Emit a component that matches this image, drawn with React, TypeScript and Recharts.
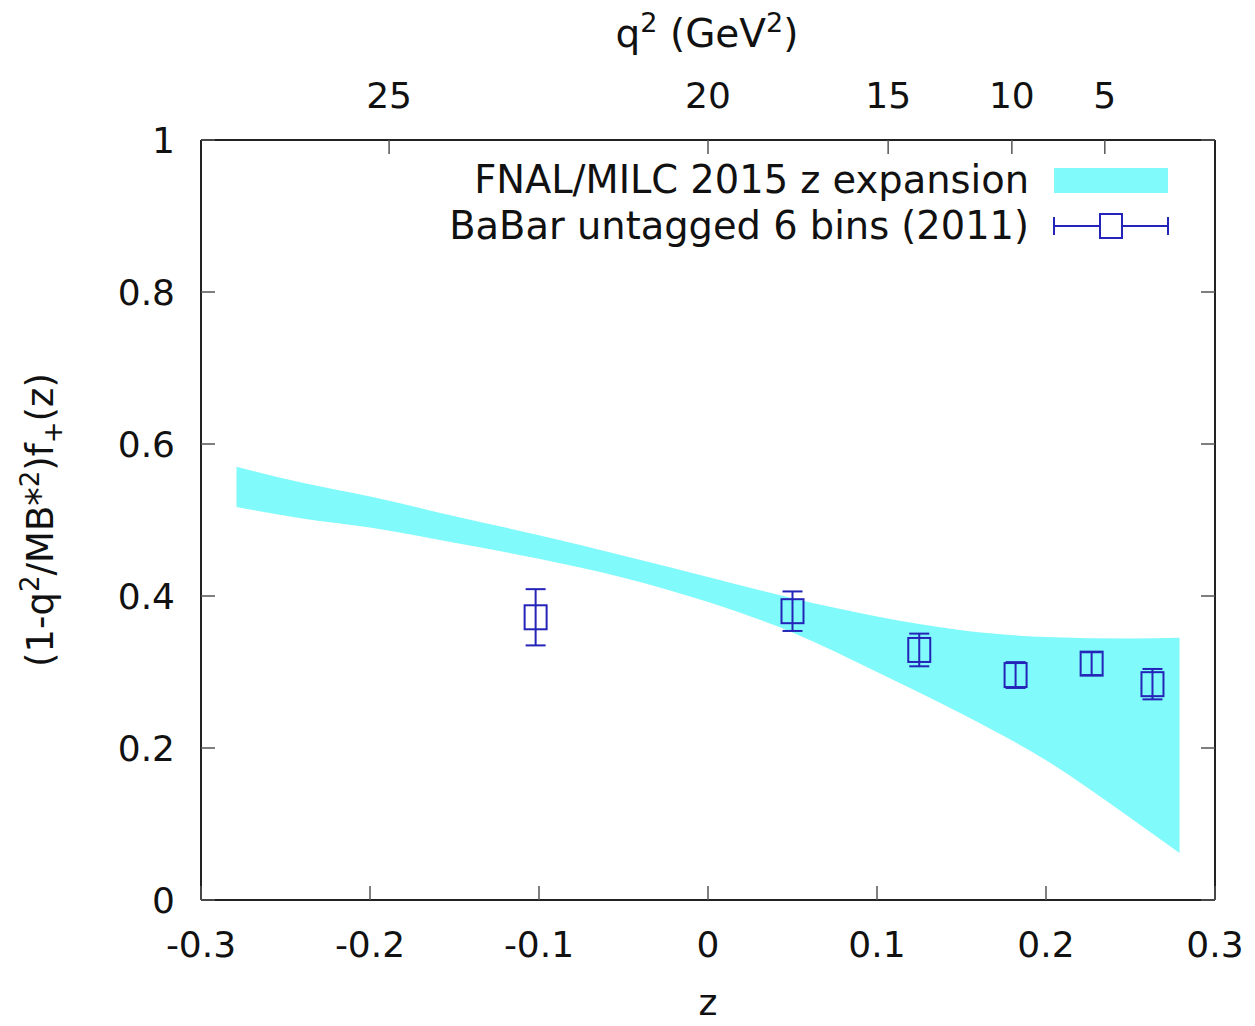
import React from 'react';
import { ComposedChart, Area, Scatter, ErrorBar, XAxis, YAxis } from 'recharts';

// ---- data ----
const bandZ = [-0.279, -0.24, -0.2, -0.15, -0.1, -0.05, 0, 0.05, 0.1, 0.15, 0.2, 0.25, 0.279];
const bandLower = [0.517, 0.502, 0.49, 0.47, 0.449, 0.424, 0.392, 0.352, 0.3, 0.245, 0.184, 0.108, 0.062];
const bandUpper = [0.57, 0.549, 0.531, 0.505, 0.48, 0.453, 0.425, 0.397, 0.373, 0.355, 0.346, 0.344, 0.345];

const babarZ = [-0.102, 0.05, 0.125, 0.182, 0.227, 0.263];
const babarF = [0.372, 0.38, 0.329, 0.296, 0.311, 0.284];
const babarErr = [0.037, 0.026, 0.0215, 0.017, 0.015, 0.02];

const zTicks = [-0.3, -0.2, -0.1, 0, 0.1, 0.2, 0.3];
const yTicks = [0, 0.2, 0.4, 0.6, 0.8, 1];
const q2Labels = ['25', '20', '15', '10', '5'];
const q2TickZ = [-0.1887, 0.0, 0.1066, 0.1798, 0.2348];

const bandData = bandZ.map((z, i) => ({ z, range: [bandLower[i], bandUpper[i]] }));
const babarData = babarZ.map((z, i) => ({ z, f: babarF[i], err: babarErr[i] }));

const W = 1240;
const H = 1010;
const FONT = '"DejaVu Sans", sans-serif';
const FS = 36;
const BLUE = '#2424b8';
const CYAN = '#80fafa';
const TICKC = '#555';

const fmt = (v: number) => (v === 0 ? '0' : String(Number(v.toFixed(2))));

const BottomTick = (props: any) => {
  const { x, y, payload } = props;
  return (
    <g>
      <line x1={x} x2={x} y1={y} y2={y - 14} stroke={TICKC} strokeWidth={1.5} />
      <text x={x} y={y + 57} textAnchor="middle" fontFamily={FONT} fontSize={FS} fill="#111">
        {fmt(payload.value)}
      </text>
    </g>
  );
};

const TopTick = (props: any) => {
  const { x, y, payload } = props;
  let idx = q2TickZ.findIndex((t) => Math.abs(t - payload.value) < 1e-6);
  if (idx < 0) idx = props.index ?? 0;
  return (
    <g>
      <line x1={x} x2={x} y1={y} y2={y + 14} stroke={TICKC} strokeWidth={1.5} />
      <text x={x} y={y - 32} textAnchor="middle" fontFamily={FONT} fontSize={FS} fill="#111">
        {q2Labels[idx]}
      </text>
    </g>
  );
};

const LeftTick = (props: any) => {
  const { x, y, payload } = props;
  return (
    <g>
      <line x1={x} x2={x + 14} y1={y} y2={y} stroke={TICKC} strokeWidth={1.5} />
      <text x={x - 26} y={y + 13} textAnchor="end" fontFamily={FONT} fontSize={FS} fill="#111">
        {fmt(payload.value)}
      </text>
    </g>
  );
};

const RightTick = (props: any) => {
  const { x, y } = props;
  return <line x1={x} x2={x - 14} y1={y} y2={y} stroke={TICKC} strokeWidth={1.5} />;
};

const SquareShape = (props: any) => {
  const { cx, cy } = props;
  if (cx == null || cy == null) return null;
  return <rect x={cx - 11} y={cy - 12} width={22} height={24} fill="none" stroke={BLUE} strokeWidth={2} />;
};

export default function App() {
  return (
    <div style={{ position: 'relative', width: W, height: H }}>
      <ComposedChart
        width={W}
        height={H}
        data={bandData}
        margin={{ top: 52, right: 13, bottom: 38, left: 93 }}
      >
        <XAxis
          xAxisId="bottom"
          dataKey="z"
          type="number"
          domain={[-0.3, 0.3]}
          ticks={zTicks}
          orientation="bottom"
          height={80}
          tickSize={0}
          tickMargin={0}
          tick={<BottomTick />}
          axisLine={{ stroke: '#222', strokeWidth: 2 }}
          allowDataOverflow
          interval={0}
        />
        <XAxis
          xAxisId="top"
          dataKey="z"
          type="number"
          domain={[-0.3, 0.3]}
          ticks={q2TickZ}
          orientation="top"
          height={80}
          tickSize={0}
          tickMargin={0}
          tick={<TopTick />}
          axisLine={{ stroke: '#222', strokeWidth: 2 }}
          allowDataOverflow
          interval={0}
        />
        <YAxis
          yAxisId="left"
          type="number"
          domain={[0, 1]}
          ticks={yTicks}
          orientation="left"
          width={100}
          tickSize={0}
          tickMargin={0}
          tick={<LeftTick />}
          axisLine={{ stroke: '#222', strokeWidth: 2 }}
          allowDataOverflow
          interval={0}
        />
        <YAxis
          yAxisId="right"
          type="number"
          domain={[0, 1]}
          ticks={yTicks}
          orientation="right"
          width={20}
          tickSize={0}
          tickMargin={0}
          tick={<RightTick />}
          axisLine={{ stroke: '#222', strokeWidth: 2 }}
          allowDataOverflow
          interval={0}
        />
        <Area
          xAxisId="bottom"
          yAxisId="left"
          dataKey="range"
          type="monotone"
          stroke="none"
          fill={CYAN}
          fillOpacity={1}
          isAnimationActive={false}
        />
        <Scatter
          xAxisId="bottom"
          yAxisId="left"
          data={babarData}
          dataKey="f"
          shape={<SquareShape />}
          isAnimationActive={false}
        >
          <ErrorBar dataKey="err" direction="y" width={10} stroke={BLUE} strokeWidth={2} isAnimationActive={false} />
        </Scatter>
      </ComposedChart>
      <svg
        width={W}
        height={H}
        style={{ position: 'absolute', left: 0, top: 0, pointerEvents: 'none', overflow: 'visible' }}
      >
        <text x={699} y={39} textAnchor="middle" fontFamily={FONT} fontSize={39} fill="#111">
          q<tspan dy={-15} fontSize={27}>2</tspan>
          <tspan dy={15}> (GeV</tspan>
          <tspan dy={-15} fontSize={27}>2</tspan>
          <tspan dy={15}>)</tspan>
        </text>
        <text x={700} y={1007} textAnchor="middle" fontFamily={FONT} fontSize={FS} fill="#111">
          z
        </text>
        <text
          x={45}
          y={512}
          textAnchor="middle"
          fontFamily={FONT}
          fontSize={37}
          fill="#111"
          transform="rotate(-90 45 512)"
        >
          (1-q<tspan dy={-14} fontSize={26}>2</tspan>
          <tspan dy={14}>/MB*</tspan>
          <tspan dy={-14} fontSize={26}>2</tspan>
          <tspan dy={14}>)f</tspan>
          <tspan dy={9} fontSize={26}>+</tspan>
          <tspan dy={-9}>(z)</tspan>
        </text>
        {/* legend */}
        <text x={1021} y={185} textAnchor="end" fontFamily={FONT} fontSize={38.4} fill="#111">
          FNAL/MILC 2015 z expansion
        </text>
        <rect x={1046} y={160} width={114} height={25} fill={CYAN} />
        <text x={1021} y={231} textAnchor="end" fontFamily={FONT} fontSize={38.4} fill="#111">
          BaBar untagged 6 bins (2011)
        </text>
        <line x1={1046} x2={1160} y1={218} y2={218} stroke={BLUE} strokeWidth={2} />
        <line x1={1046} x2={1046} y1={209} y2={227} stroke={BLUE} strokeWidth={2} />
        <line x1={1160} x2={1160} y1={209} y2={227} stroke={BLUE} strokeWidth={2} />
        <rect x={1092} y={206} width={22} height={24} fill="#fff" stroke={BLUE} strokeWidth={2} />
      </svg>
    </div>
  );
}
